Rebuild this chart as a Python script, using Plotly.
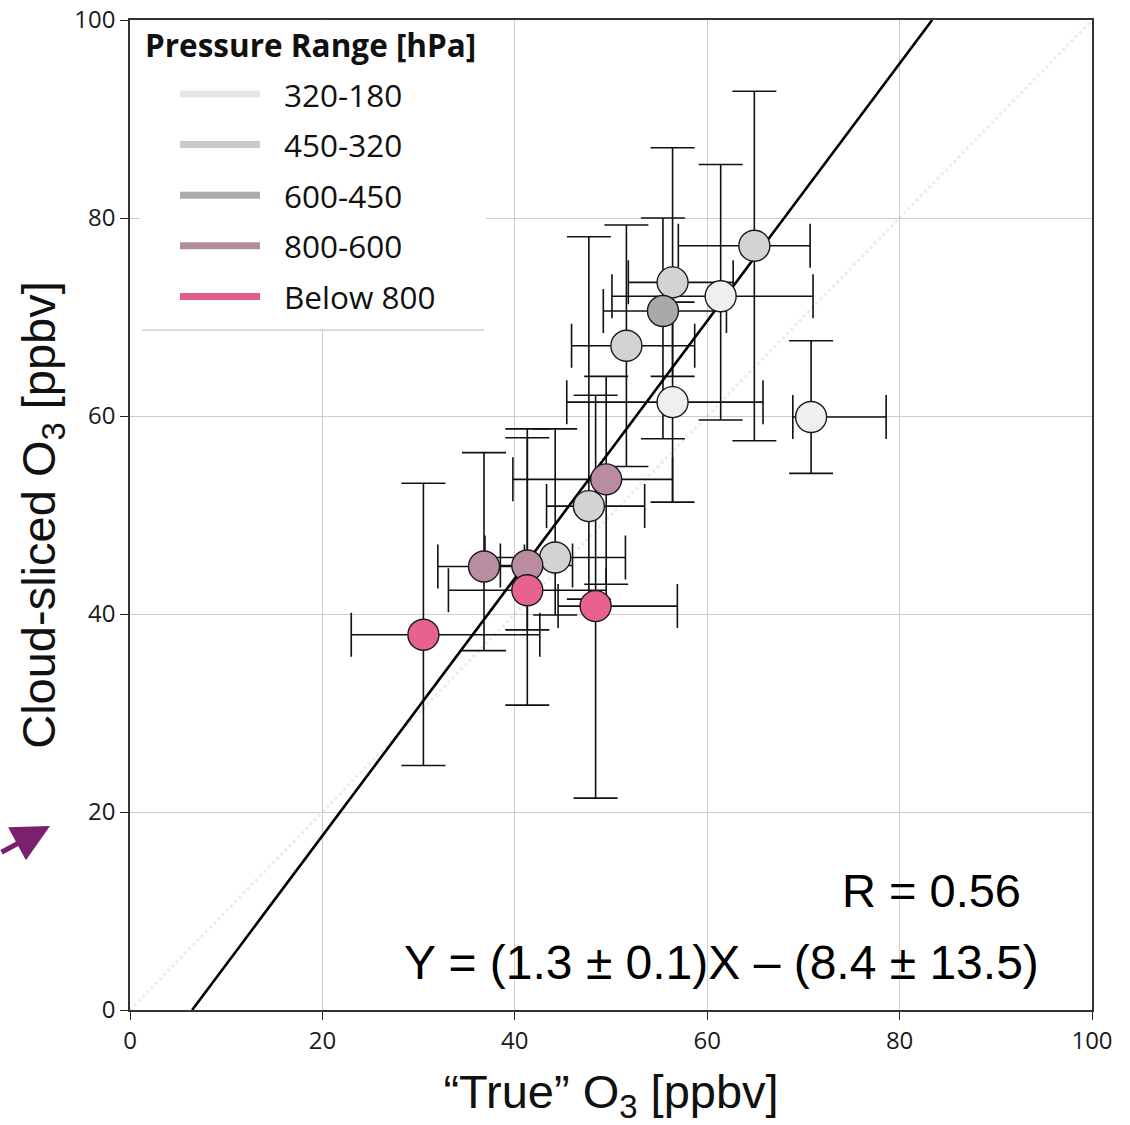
import plotly.graph_objects as go

# ---------------- data ----------------
x_true = [30.5, 36.8, 41.3, 41.3, 44.2, 48.4, 49.5, 47.7, 51.6, 56.4, 55.4, 61.4, 64.9, 56.4, 70.8]
y_cloud = [37.9, 44.8, 44.9, 42.4, 45.7, 40.8, 53.6, 50.9, 67.1, 73.5, 70.6, 72.1, 77.2, 61.4, 59.9]
x_low = [23.0, 32.0, 38.5, 33.1, 36.9, 44.5, 39.8, 43.3, 45.9, 51.8, 49.2, 50.1, 57.0, 45.4, 68.9]
x_high = [42.6, 41.0, 46.0, 49.5, 51.5, 56.9, 56.4, 53.5, 58.7, 62.7, 62.0, 71.0, 70.7, 65.8, 78.6]
y_low = [24.7, 36.3, 38.4, 30.8, 39.9, 21.4, 43.0, 41.5, 54.9, 64.0, 57.7, 59.6, 57.5, 51.3, 54.2]
y_high = [53.2, 56.3, 58.7, 57.8, 58.7, 62.1, 64.0, 78.1, 79.3, 87.1, 80.0, 85.4, 92.8, 71.5, 67.6]
groups = ["Below 800", "800-600", "800-600", "Below 800", "450-320", "Below 800", "800-600",
          "450-320", "450-320", "450-320", "600-450", "320-180", "450-320", "320-180", "320-180"]

legend_names = ["320-180", "450-320", "600-450", "800-600", "Below 800"]
legend_colors = ["#e6e6e6", "#cacaca", "#ababab", "#b48b9d", "#e35b8b"]
marker_colors = {"320-180": "#efefef", "450-320": "#d3d2d5", "600-450": "#a9a9a9",
                 "800-600": "#b98ca2", "Below 800": "#e8628f"}

fit_slope = 1.3
fit_intercept = -8.4
tick_vals = [0, 20, 40, 60, 80, 100]

# ---------------- figure geometry helpers ----------------
W, H = 1130, 1125
L, R, T, B = 130, 38, 20, 115
PW, PH = W - L - R, H - T - B


def px(xp):
    return (xp - L) / PW


def py(yp):
    return (H - B - yp) / PH


fig = go.Figure()

# faint 1:1 line
fig.add_trace(go.Scatter(x=[0, 100], y=[0, 100], mode="lines",
                         line=dict(color="rgba(200,200,200,0.35)", width=3, dash="dot"),
                         showlegend=False, hoverinfo="skip"))

# error bars (drawn beneath all markers)
fig.add_trace(go.Scatter(
    x=x_true, y=y_cloud, mode="markers", marker=dict(size=1, opacity=0),
    error_x=dict(type="data", symmetric=False,
                 array=[h - v for h, v in zip(x_high, x_true)],
                 arrayminus=[v - l for l, v in zip(x_low, x_true)],
                 color="#111111", thickness=1.6, width=22),
    error_y=dict(type="data", symmetric=False,
                 array=[h - v for h, v in zip(y_high, y_cloud)],
                 arrayminus=[v - l for l, v in zip(y_low, y_cloud)],
                 color="#111111", thickness=1.6, width=22),
    showlegend=False, hoverinfo="skip"))

# regression line
x0 = (0 - fit_intercept) / fit_slope
x1 = (100 - fit_intercept) / fit_slope
fig.add_trace(go.Scatter(x=[x0, x1], y=[fit_slope * x0 + fit_intercept, fit_slope * x1 + fit_intercept],
                         mode="lines", line=dict(color="#000000", width=2.6),
                         showlegend=False, hoverinfo="skip"))

# markers, one trace per pressure range
for name in legend_names:
    idx = [i for i, g in enumerate(groups) if g == name]
    fig.add_trace(go.Scatter(
        x=[x_true[i] for i in idx], y=[y_cloud[i] for i in idx], mode="markers", name=name,
        marker=dict(size=31, color=marker_colors[name], line=dict(color="#1a1a1a", width=1.4)),
        showlegend=False))

# ---------------- manual legend ----------------
shapes = [
    dict(type="rect", xref="paper", yref="paper", x0=px(140), x1=px(486), y0=py(331), y1=py(T + 1),
         fillcolor="white", line=dict(width=0), layer="above"),
    dict(type="line", xref="paper", yref="paper", x0=px(142), x1=px(484), y0=py(330), y1=py(330),
         line=dict(color="#cfcfcf", width=1.5), layer="above"),
]
annotations = [
    dict(text="<b>Pressure Range [hPa]</b>", xref="paper", yref="paper", x=px(143), y=py(44),
         xanchor="left", yanchor="middle", showarrow=False,
         font=dict(family="Open Sans", size=31.5, color="#111111")),
]
for k, (name, col) in enumerate(zip(legend_names, legend_colors)):
    yc = 94 + k * 50.6
    shapes.append(dict(type="line", xref="paper", yref="paper", x0=px(180), x1=px(260),
                       y0=py(yc), y1=py(yc), line=dict(color=col, width=7), layer="above"))
    annotations.append(dict(text=name, xref="paper", yref="paper", x=px(282), y=py(yc),
                            xanchor="left", yanchor="middle", showarrow=False,
                            font=dict(family="Open Sans", size=31.5, color="#111111")))

# statistics text
annotations.append(dict(text="R = 0.56", xref="paper", yref="paper", x=px(1023), y=py(890),
                        xanchor="right", yanchor="middle", showarrow=False,
                        font=dict(family="Liberation Sans", size=47, color="#000000")))
annotations.append(dict(text="Y = (1.3 ± 0.1)X – (8.4 ± 13.5)", xref="paper", yref="paper",
                        x=px(1041), y=py(962), xanchor="right", yanchor="middle", showarrow=False,
                        font=dict(family="Liberation Sans", size=48, color="#000000")))

# purple pointer arrow outside the axes
annotations.append(dict(text="", xref="paper", yref="paper", x=px(50), y=py(826),
                        ax=-54, ay=27, showarrow=True, arrowhead=2, arrowsize=1.5,
                        arrowwidth=5, arrowcolor="#7b1f6f"))

axis_common = dict(range=[0, 100], tickvals=tick_vals, ticks="outside", ticklen=8,
                   tickwidth=1.2, tickcolor="#222222", showline=True, linecolor="#333333",
                   linewidth=1.5, mirror=True, showgrid=True, gridcolor="#cccccc",
                   gridwidth=1, zeroline=False, ticklabeloverflow="allow",
                   tickfont=dict(family="Open Sans", size=24, color="#1a1a1a"))

fig.update_layout(
    width=W, height=H,
    margin=dict(l=L, r=R, t=T, b=B),
    paper_bgcolor="white", plot_bgcolor="white",
    showlegend=False,
    shapes=shapes, annotations=annotations,
    xaxis=dict(**axis_common,
               title=dict(text="“True” O<sub>3</sub> [ppbv]", standoff=31,
                          font=dict(family="Liberation Sans", size=47, color="#111111"))),
    yaxis=dict(**axis_common,
               title=dict(text="Cloud-sliced O<sub>3</sub> [ppbv]", standoff=4,
                          font=dict(family="Liberation Sans", size=47, color="#111111"))),
)
fig.update_xaxes(automargin=False)
fig.update_yaxes(automargin=False)

fig.write_html("out.html", config={"displayModeBar": False},
               post_script="document.body.style.margin='0';document.body.style.overflow='hidden';")
